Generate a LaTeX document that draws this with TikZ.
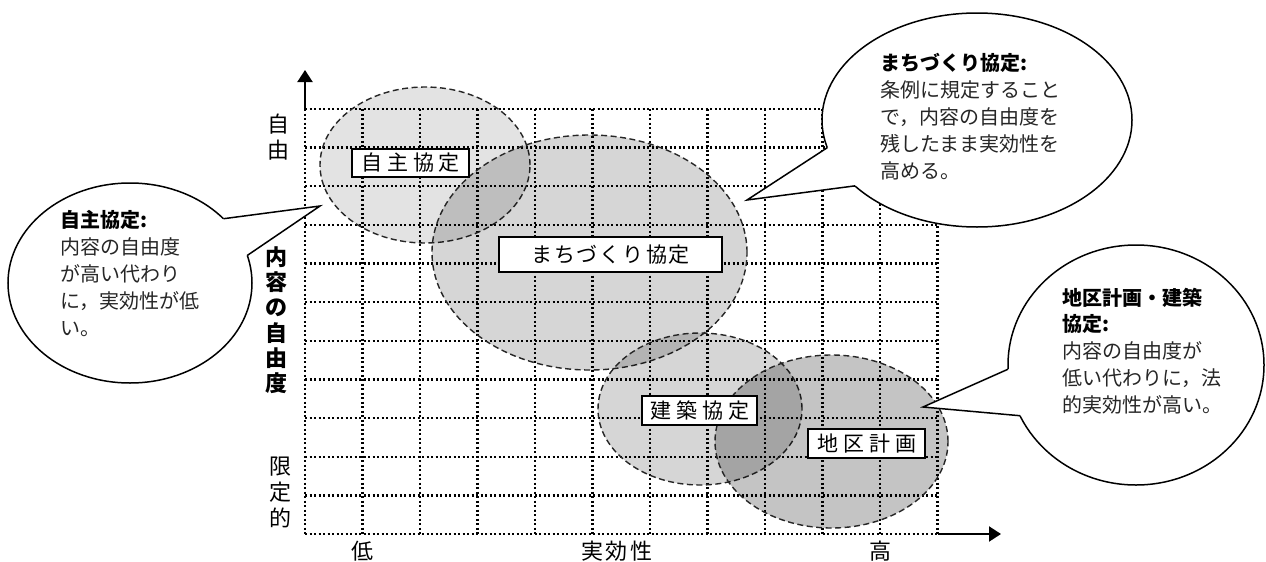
\documentclass[tikz,border=0pt]{standalone}
\usepackage{fontspec}
\newfontfamily\jp{Noto Sans CJK JP}
\usetikzlibrary{arrows.meta,calc}
\begin{document}
\begin{tikzpicture}[x=1pt,y=-1pt,
  gridline/.style={line width=2.4pt, dash pattern=on 2.2pt off 2.3pt},
  zone/.style={draw=black!85, line width=1.4pt, dash pattern=on 6pt off 3.5pt},
  lbox/.style={draw, line width=2.2pt, fill=white, inner sep=0pt, font=\jp\fontsize{21}{24}\selectfont},
  alab/.style={inner sep=0pt, font=\jp\fontsize{22}{24}\selectfont},
  blab/.style={inner sep=0pt, font=\jp\bfseries\fontsize{22}{24}\selectfont},
  bubble/.style={draw, line width=1.5pt, fill=white},
  btxt/.style={anchor=base west, inner sep=0pt, text=black!85, font=\jp\fontsize{20}{24}\selectfont},
  bhead/.style={anchor=base west, inner sep=0pt, font=\jp\bfseries\fontsize{20}{24}\selectfont},
  axisline/.style={line width=2pt, -{Triangle[length=12pt,width=15pt]}}
]
\useasboundingbox (0,0) rectangle (1266,562);
\fill[white] (0,0) rectangle (1266,562);

% grid
\foreach \i in {0,...,11} \draw[gridline] ({305+57.5*\i},109) -- ({305+57.5*\i},534);
\foreach \j in {0,...,11} \draw[gridline] (305,{109+38.636*\j}) -- (937.5,{109+38.636*\j});

% zones
\fill[black, fill opacity=0.11] (425,165) ellipse [x radius=105pt, y radius=78pt];
\draw[zone] (425,165) ellipse [x radius=105pt, y radius=78pt];
\fill[black, fill opacity=0.16] (589.5,252.5) ellipse [x radius=157.5pt, y radius=117.5pt];
\draw[zone] (589.5,252.5) ellipse [x radius=157.5pt, y radius=117.5pt];
\fill[black, fill opacity=0.16] (700,409) ellipse [x radius=102pt, y radius=76pt];
\draw[zone] (700,409) ellipse [x radius=102pt, y radius=76pt];
\fill[black, fill opacity=0.23] (831.5,441.5) ellipse [x radius=116.5pt, y radius=86.5pt];
\draw[zone] (831.5,441.5) ellipse [x radius=116.5pt, y radius=86.5pt];

% axes
\coordinate (o) at (305,109);
\coordinate (ytip) at (305,70);
\coordinate (xs) at (937.5,534);
\coordinate (xtip) at (1001,534);
\draw[axisline] (o) -- (ytip);
\draw[axisline] (xs) -- (xtip);

% label boxes
\node[lbox, minimum width=117pt, minimum height=28pt] (b1) at (410.5,163) {自\kern5pt 主\kern5pt 協\kern5pt 定};
\node[lbox, minimum width=223pt, minimum height=35pt] (b2) at (610.5,254.5) {ま\kern2pt ち\kern2pt づ\kern2pt く\kern2pt り\kern2pt 協\kern2pt 定};
\node[lbox, minimum width=115pt, minimum height=29pt] (b3) at (699.5,410.5) {建\kern5pt 築\kern5pt 協\kern5pt 定};
\node[lbox, minimum width=117pt, minimum height=29pt] (b4) at (866.5,443.5) {地\kern5pt 区\kern5pt 計\kern5pt 画};

% axis labels
\node[alab] (y1) at (278,124) {自};
\node[alab] (y2) at (278,150) {由};
\node[blab] (v1) at (276,257) {内};
\node[blab] (v2) at (276,282) {容};
\node[blab] (v3) at (276,308) {の};
\node[blab] (v4) at (276,333) {自};
\node[blab] (v5) at (276,358) {由};
\node[blab] (v6) at (276,383) {度};
\node[alab] (g1) at (280,467) {限};
\node[alab] (g2) at (280,492) {定};
\node[alab] (g3) at (280,518) {的};
\node[alab] (x1) at (362,551) {低};
\node[alab] (x2) at (617,551) {実\kern3pt 効\kern3pt 性};
\node[alab] (x3) at (880,551) {高};

% left bubble
\coordinate (lc) at (130,283);
\coordinate (lA) at ($(lc)+(-40:122 and 100)$);
\coordinate (lB) at ($(lc)+(-16:122 and 100)$);
\coordinate (lA2) at ($(lc)+(-40:115 and 94)$);
\coordinate (lB2) at ($(lc)+(-16:115 and 94)$);
\coordinate (lT) at (320,206);
\draw[bubble] (lc) ellipse [x radius=122pt, y radius=100pt];
\fill[white] (lA2) -- (lA) -- (lT) -- (lB) -- (lB2) -- cycle;
\draw[line width=1.5pt, line join=miter] (lA) -- (lT) -- (lB);
\node[bhead] (lt0) at (60,227) {自主協定:};
\node[btxt] (lt1) at (60,254) {内容の自由度};
\node[btxt] (lt2) at (60,281) {が高い代わり};
\node[btxt] (lt3) at (60,308) {に，実効性が低};
\node[btxt] (lt4) at (60,335) {い。};

% top right bubble
\coordinate (tc) at (977,120);
\coordinate (tA) at ($(tc)+(165:155 and 107)$);
\coordinate (tB) at ($(tc)+(142:155 and 107)$);
\coordinate (tA2) at ($(tc)+(165:147 and 100)$);
\coordinate (tB2) at ($(tc)+(142:147 and 100)$);
\coordinate (tT) at (747,200);
\draw[bubble] (tc) ellipse [x radius=155pt, y radius=107pt];
\fill[white] (tA2) -- (tA) -- (tT) -- (tB) -- (tB2) -- cycle;
\draw[line width=1.5pt, line join=miter] (tA) -- (tT) -- (tB);
\node[bhead] (tt0) at (880,70) {まちづくり協定:};
\node[btxt] (tt1) at (880,97) {条例に規定すること};
\node[btxt] (tt2) at (880,124) {で，内容の自由度を};
\node[btxt] (tt3) at (880,151) {残したまま実効性を};
\node[btxt] (tt4) at (880,178) {高める。};

% right bubble
\coordinate (rc) at (1136,365);
\coordinate (rA) at ($(rc)+(178:128 and 120)$);
\coordinate (rB) at ($(rc)+(155:128 and 120)$);
\coordinate (rA2) at ($(rc)+(178:120 and 112)$);
\coordinate (rB2) at ($(rc)+(155:120 and 112)$);
\coordinate (rT) at (923,407);
\draw[bubble] (rc) ellipse [x radius=128pt, y radius=120pt];
\fill[white] (rA2) -- (rA) -- (rT) -- (rB) -- (rB2) -- cycle;
\draw[line width=1.5pt, line join=miter] (rA) -- (rT) -- (rB);
\node[bhead] (rt0) at (1062,305) {地区計画・建築};
\node[bhead] (rt1) at (1062,331) {協定:};
\node[btxt] (rt2) at (1062,358) {内容の自由度が};
\node[btxt] (rt3) at (1062,385) {低い代わりに，法};
\node[btxt] (rt4) at (1062,412) {的実効性が高い。};
\end{tikzpicture}
\end{document}
